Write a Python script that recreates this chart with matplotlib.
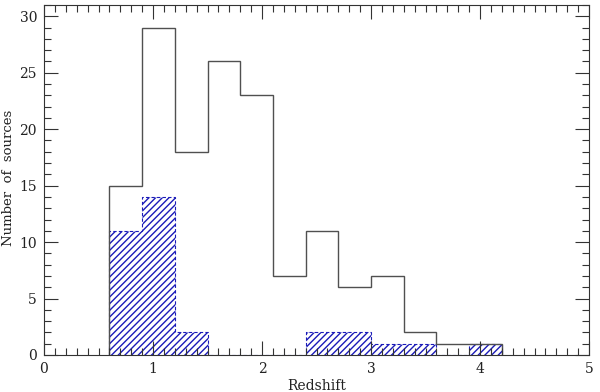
import numpy as np
import matplotlib
matplotlib.use('Agg')
import matplotlib.pyplot as plt
from matplotlib.ticker import MultipleLocator

# redshift bins (width 0.3)
edges = np.array([0.6, 0.9, 1.2, 1.5, 1.8, 2.1, 2.4, 2.7, 3.0, 3.3, 3.6, 3.9, 4.2])
# all sources
n_all = np.array([15, 29, 18, 26, 23, 7, 11, 6, 7, 2, 1, 1])
# hatched subsample
n_sub = np.array([11, 14, 2, 0, 0, 0, 2, 2, 1, 1, 0, 1])

plt.rcParams['font.family'] = ['DejaVu Serif']
plt.rcParams['hatch.linewidth'] = 1.0

fig = plt.figure(figsize=(6, 3.92), dpi=100)
ax = fig.add_axes([44/600, 1-355/392, 545/600, 350/392])

# hatched subsample
ax.stairs(n_sub, edges, fill=True, facecolor='none', edgecolor='#1a1ab8',
          hatch='/////', linestyle=(0, (3, 2)), linewidth=0.8)
# full sample outline
ax.stairs(n_all, edges, baseline=0, color='#505050', linewidth=1.0)

ax.set_xlim(0, 5)
ax.set_ylim(0, 31)
ax.xaxis.set_major_locator(MultipleLocator(1))
ax.xaxis.set_minor_locator(MultipleLocator(0.1))
ax.yaxis.set_major_locator(MultipleLocator(5))
ax.yaxis.set_minor_locator(MultipleLocator(1))
ax.tick_params(which='both', direction='in', top=True, right=True,
               colors='#333333', labelcolor='#222222', labelsize=10)
ax.tick_params(which='major', length=10, width=0.8, pad=5)
ax.tick_params(which='minor', length=5, width=0.8)
for s in ax.spines.values():
    s.set_linewidth(0.8)
    s.set_color('#333333')

ax.set_xlabel('Redshift', fontsize=10, color='#222222', labelpad=2)
fig.text(9/600, 1-178/392, 'Number  of  sources', rotation=90, fontsize=9.5,
         color='#222222', ha='center', va='center')

fig.savefig('out.png', dpi=100)
